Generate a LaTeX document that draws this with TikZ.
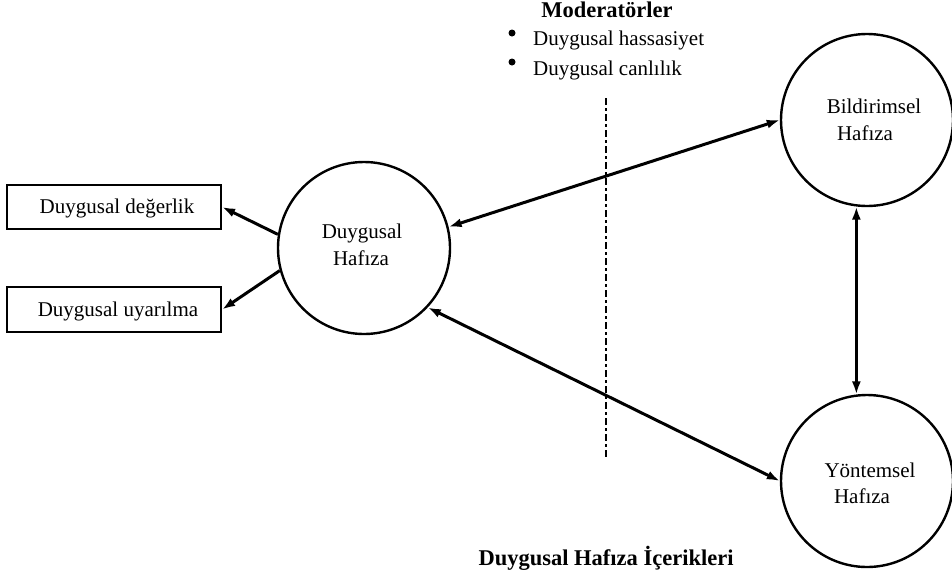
\documentclass[tikz,border=0pt]{standalone}
\usepackage{fontspec}
\setmainfont{Liberation Serif}
\usetikzlibrary{arrows.meta}
\begin{document}
\begin{tikzpicture}[x=1pt,y=-1pt,
  memory/.style={circle,draw,line width=2.4pt,minimum size=172pt,inner sep=0pt},
  labelbox/.style={draw,line width=2.2pt,minimum width=214pt,minimum height=44pt,inner sep=0pt},
  txt/.style={inner sep=0pt,anchor=base,font=\fontsize{21}{25}\selectfont},
  heading/.style={inner sep=0pt,anchor=base,font=\fontsize{22.5}{27}\selectfont\bfseries},
  tip/.tip={Latex[length=13pt,width=9pt]},
  link/.style={line width=3pt,-tip},
  both/.style={line width=3pt,tip-tip},
  dot/.style={circle,fill,inner sep=0pt,minimum size=7pt}]
\useasboundingbox (0,0) rectangle (952,582);

% memory circles
\node[memory] (dh) at (364,248) {};
\node[memory] (bild) at (867,120) {};
\node[memory] (yont) at (867,481) {};

\node[txt] (dh1) at (362,238) {Duygusal};
\node[txt] (dh2) at (361,265) {Hafıza};
\node[txt] (bi1) at (874,113) {Bildirimsel};
\node[txt] (bi2) at (865,140) {Hafıza};
\node[txt] (yo1) at (870,477) {Yöntemsel};
\node[txt] (yo2) at (862,503) {Hafıza};

% emotional dimension boxes
\node[labelbox] (val) at (114,207) {};
\node[labelbox,minimum height=45pt] (aro) at (114,309.5) {};
\node[txt] (valt) at (117,213) {Duygusal değerlik};
\node[txt] (arot) at (118,316) {Duygusal uyarılma};

% connectors
\draw[link] (dh.171) -- (val.east);
\draw[link] (dh.195) -- (aro.east);
\draw[both] (dh.14) -- (bild.west);
\draw[both] (dh.-43) -- (yont.west);
\draw[both] (bild.263) -- (yont.97);

% moderator separator
\coordinate (dtop) at (606,98);
\coordinate (dbot) at (606,460);
\draw[line width=1.3pt,dash pattern=on 7pt off 3pt on 3pt off 3pt] (dtop) -- (dbot);

% moderators
\node[heading] (mod) at (607,17) {Moderatörler};
\node[dot] (m1) at (512,33) {};
\node[dot] (m2) at (512,62) {};
\node[txt,anchor=base west] (mt1) at (533,45) {Duygusal hassasiyet};
\node[txt,anchor=base west] (mt2) at (533,75) {Duygusal canlılık};

% title
\node[heading] (title) at (606,565) {Duygusal Hafıza İçerikleri};
\end{tikzpicture}
\end{document}
